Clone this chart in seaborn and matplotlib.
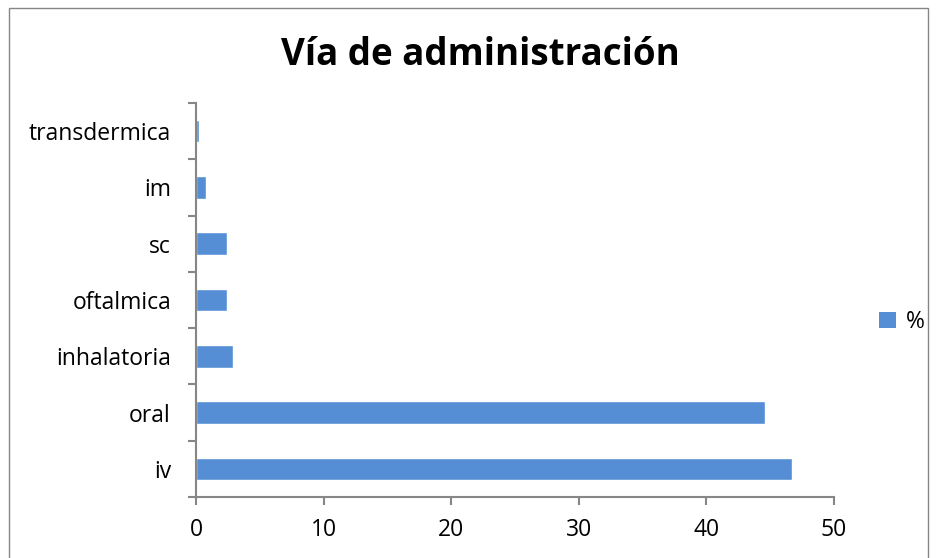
import matplotlib
matplotlib.use("Agg")
import matplotlib.pyplot as plt
import seaborn as sns
import pandas as pd
import numpy as np
from matplotlib.patches import Rectangle, Patch

# Route of administration, percentage of prescriptions
vias = ["transdermica", "im", "sc", "oftalmica", "inhalatoria", "oral", "iv"]
porcentaje = [0.25, 0.8, 2.4, 2.4, 2.9, 44.6, 46.7]
x_ticks = [0, 10, 20, 30, 40, 50]

df = pd.DataFrame({"via": vias, "pct": porcentaje})

sns.set_theme(style="white")
plt.rcParams["font.family"] = ["Open Sans", "DejaVu Sans"]
plt.rcParams["text.color"] = "black"
plt.rcParams["xtick.color"] = "black"
plt.rcParams["ytick.color"] = "black"

fig = plt.figure(figsize=(9.36, 5.58), dpi=100)
ax = fig.add_axes([196 / 936, 1 - 497 / 558, (834 - 196) / 936, (497 - 103) / 558])

color = "#558ED5"
sns.barplot(data=df, x="pct", y="via", order=vias, color=color, width=0.4,
            saturation=1, ax=ax, orient="h")

ax.set_xlim(0, 50)
ax.set_ylim(6.5, -0.5)
ax.set_xticks(x_ticks)
ax.set_xticklabels([str(t) for t in x_ticks], fontsize=16.5)
ax.set_xlabel("")
ax.set_ylabel("")

# category labels centred, tick marks between categories
ax.set_yticks(range(len(vias)))
ax.set_yticklabels(vias, fontsize=16.5)
ax.set_yticks(np.arange(-0.5, len(vias), 1), minor=True)
ax.tick_params(axis="y", which="major", length=0, pad=18, labelcolor="black")
ax.tick_params(axis="y", which="minor", length=6, width=1.5, color="#868686", direction="out", left=True)
ax.tick_params(axis="x", which="major", length=6, width=1.5, color="#868686", direction="out",
               bottom=True, pad=9, labelcolor="black")

for side in ["top", "right"]:
    ax.spines[side].set_visible(False)
for side in ["left", "bottom"]:
    ax.spines[side].set_color("#868686")
    ax.spines[side].set_linewidth(1.5)

fig.text(480 / 936, 1 - 55 / 558, "Vía de administración", ha="center", va="center",
         fontsize=26.5, fontweight="bold", color="black")

handle = Patch(facecolor=color, edgecolor="none")
fig.legend([handle], ["%"], loc="center left", bbox_to_anchor=(874 / 936, 1 - 322 / 558),
           frameon=False, fontsize=16.5, handlelength=0.75, handleheight=0.75,
           handletextpad=0.45, borderaxespad=0, borderpad=0.2, labelcolor="black")

# chart area border
fig.patches.append(Rectangle((9 / 936, -0.01), (928 - 9) / 936, 1 - 8 / 558 + 0.01,
                             transform=fig.transFigure, fill=False,
                             edgecolor="#868686", linewidth=1))

fig.savefig("out.png", dpi=100)
